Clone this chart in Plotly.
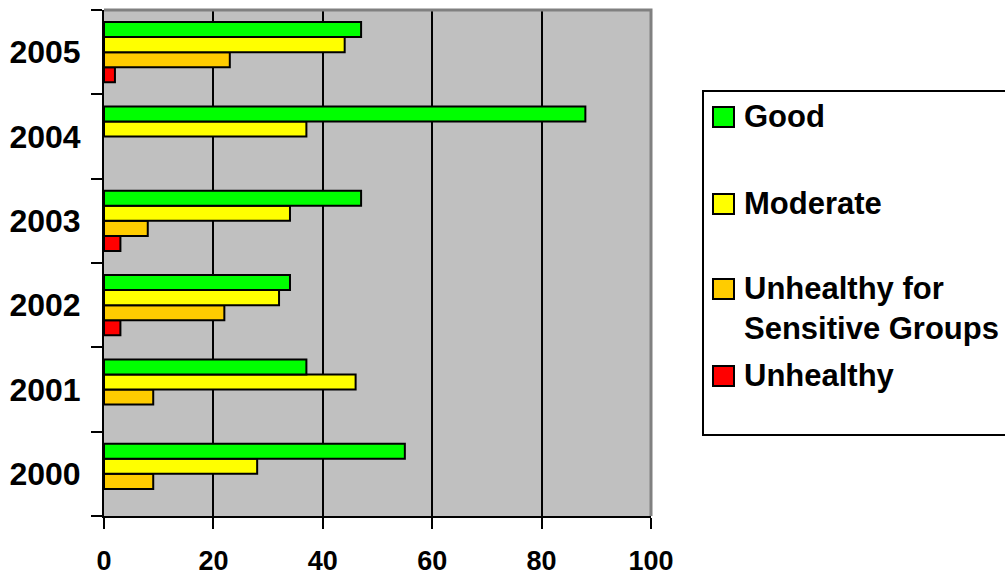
import plotly.graph_objects as go

# Air quality days by category per year
years = ["2000", "2001", "2002", "2003", "2004", "2005"]
good = [55, 37, 34, 47, 88, 47]
moderate = [28, 46, 32, 34, 37, 44]
usg = [9, 9, 22, 8, None, 23]
unhealthy = [None, None, 3, 3, None, 2]

series_names = ["Good", "Moderate", "Unhealthy for<br>Sensitive Groups", "Unhealthy"]
series_values = [good, moderate, usg, unhealthy]
series_colors = ["#00ff00", "#ffff00", "#ffcc00", "#ff0000"]

x_ticks = [0, 20, 40, 60, 80, 100]

FONT = "Liberation Sans, Arial, sans-serif"

fig = go.Figure()

# traces added bottom-up so that "Good" sits at the top of each group
for name, vals, col in reversed(list(zip(series_names, series_values, series_colors))):
    fig.add_trace(go.Bar(
        y=years, x=vals, orientation="h", name=name.replace("<br>", " "),
        marker=dict(color=col, line=dict(color="black", width=2)),
        showlegend=False,
    ))

# plot area geometry (pixels) used to place the hand-built legend
W, H = 1005, 578
L, R, T, B = 104, 354, 10, 62
pw, ph = W - L - R, H - T - B


def px(x):
    return (x - L) / pw


def py(y):
    return (H - B - y) / ph


shapes = []
annotations = []

# gray top/right frame of the plotting area
shapes.append(dict(type="path", xref="paper", yref="paper",
                   path="M 0,1 L 1,1 L 1,0",
                   line=dict(color="#808080", width=3), layer="above"))

# legend box
shapes.append(dict(type="rect", xref="paper", yref="paper",
                   x0=px(703), x1=px(1012), y0=py(435), y1=py(91),
                   line=dict(color="black", width=2), fillcolor="white"))

legend_rows = [117, 204, 289, 376]
for name, col, yc in zip(series_names, series_colors, legend_rows):
    shapes.append(dict(type="rect", xref="paper", yref="paper",
                       x0=px(713), x1=px(734), y0=py(yc + 10), y1=py(yc - 10),
                       line=dict(color="black", width=2), fillcolor=col))
    bold_name = "<br>".join(f"<b>{part}</b>" for part in name.split("<br>"))
    annotations.append(dict(
        xref="paper", yref="paper", x=px(742), y=py(yc - 20),
        xanchor="left", yanchor="top", align="left", showarrow=False,
        text=bold_name, font=dict(family=FONT, size=31, color="black"),
    ))

fig.update_layout(
    width=W, height=H,
    margin=dict(l=L, r=R, t=T, b=B, autoexpand=False),
    paper_bgcolor="white",
    plot_bgcolor="#c0c0c0",
    barmode="group",
    bargap=0.286,
    bargroupgap=0,
    shapes=shapes,
    annotations=annotations,
    xaxis=dict(
        range=[0, 100], tickvals=x_ticks, ticktext=[f"<b>{v}</b>" for v in x_ticks],
        showgrid=True, gridcolor="black", gridwidth=2, zeroline=False,
        showline=True, linecolor="black", linewidth=2,
        ticks="outside", ticklen=11, tickwidth=2, tickcolor="black",
        tickfont=dict(family=FONT, size=27, color="black"),
        ticklabelstandoff=9,
    ),
    yaxis=dict(
        type="category", categoryorder="array", categoryarray=years,
        tickson="boundaries", showgrid=False, zeroline=False,
        showline=True, linecolor="black", linewidth=2,
        ticks="outside", ticklen=11, tickwidth=2, tickcolor="black",
        tickfont=dict(family=FONT, size=32, color="black", weight="bold"),
        ticklabelstandoff=15,
    ),
    showlegend=False,
)

fig.write_html("out.html")
